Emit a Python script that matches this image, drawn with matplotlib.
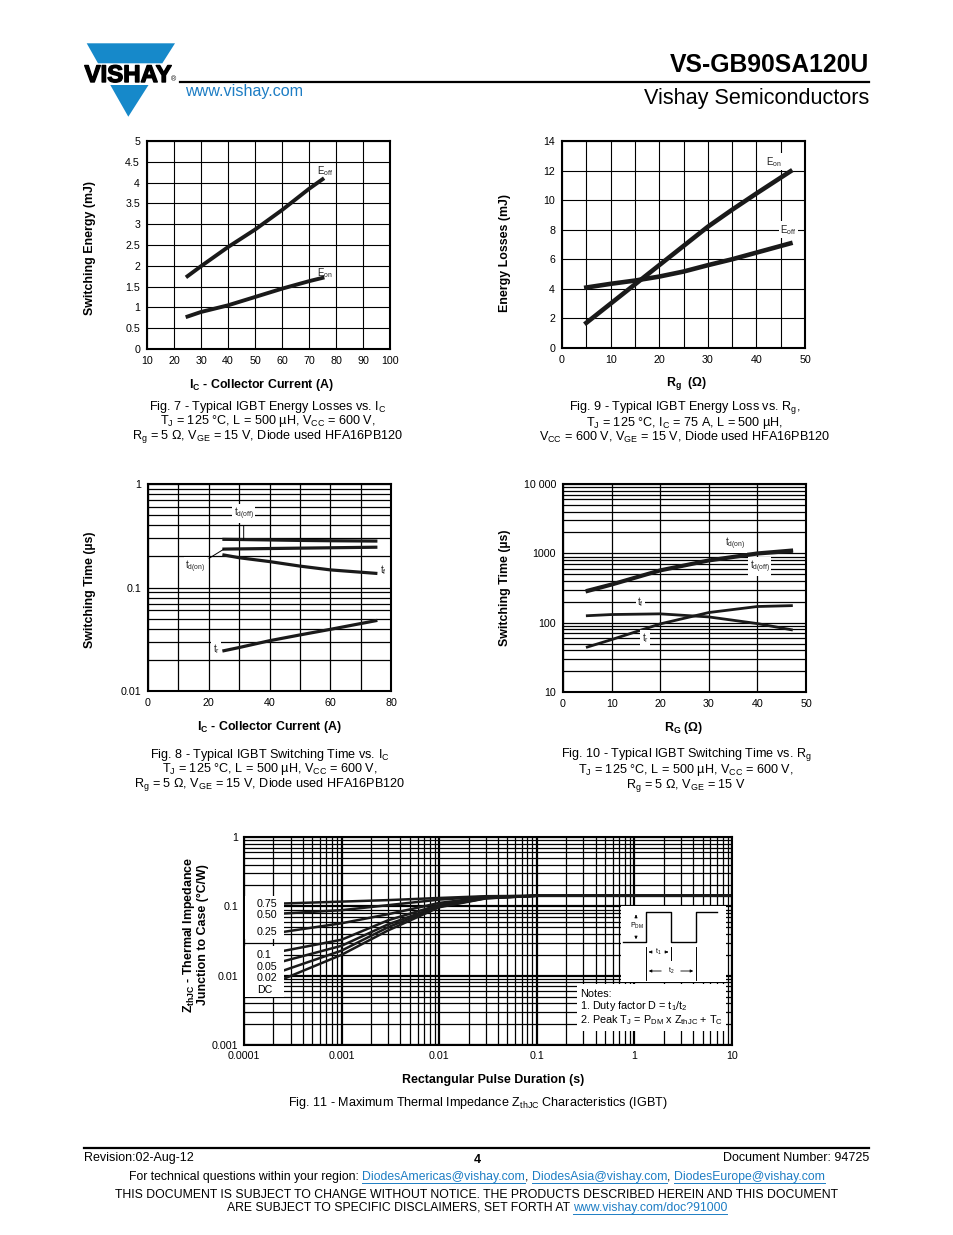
import numpy as np
import matplotlib.pyplot as plt
import matplotlib.patheffects as pe
from matplotlib.patches import Polygon, Rectangle, FancyArrowPatch
from matplotlib.lines import Line2D
from matplotlib.ticker import LogLocator, NullFormatter

plt.rcParams['font.family'] = ['Liberation Sans', 'DejaVu Sans']

# ---- data ----
# Fig. 7 energy vs collector current
ic7 = [25, 30, 40, 50, 60, 70, 75]
eoff7 = [1.75, 1.99, 2.45, 2.87, 3.34, 3.85, 4.08]
eon7 = [0.78, 0.89, 1.05, 1.25, 1.45, 1.63, 1.71]

# Fig. 9 energy vs gate resistance
rg9 = [5, 10, 15, 20, 25, 30, 35, 40, 47]
eon9 = [1.7, 3.0, 4.3, 5.6, 6.9, 8.2, 9.35, 10.45, 11.95]
eoff9 = [4.09, 4.34, 4.56, 4.83, 5.17, 5.6, 6.0, 6.45, 7.08]

# Fig. 8 switching time vs collector current (us)
ic8 = [25, 30, 40, 50, 60, 75]
td_off8 = [0.292, 0.291, 0.288, 0.285, 0.283, 0.281]
td_on8 = [0.235, 0.236, 0.238, 0.240, 0.242, 0.245]
tf8 = [0.206, 0.194, 0.178, 0.161, 0.148, 0.137]
tr8 = [0.0245, 0.0263, 0.0306, 0.0348, 0.0394, 0.0478]

# Fig. 10 switching time vs gate resistance
rg10 = [5, 10, 20, 30, 40, 47]
td_on10 = [292, 360, 575, 800, 1010, 1110]
td_off10 = [282, 350, 560, 780, 980, 1070]
tf10 = [126, 131, 134, 121, 97, 79]
tr10 = [44.5, 57, 96, 140, 171, 176]

# Fig. 11 thermal impedance
t11 = [0.00026, 0.001, 0.003, 0.01, 0.03, 0.1, 10]
duty_labels = ['0.75', '0.50', '0.25', '0.1', '0.05', '0.02', 'DC']
zth = [
    [0.110, 0.117, 0.123, 0.132, 0.140, 0.142, 0.142],
    [0.079, 0.088, 0.104, 0.125, 0.138, 0.142, 0.142],
    [0.043, 0.057, 0.077, 0.112, 0.135, 0.142, 0.142],
    [0.0229, 0.033, 0.063, 0.105, 0.133, 0.142, 0.142],
    [0.0163, 0.027, 0.055, 0.101, 0.132, 0.142, 0.142],
    [0.0120, 0.023, 0.050, 0.099, 0.131, 0.142, 0.142],
    [0.0091, 0.020, 0.045, 0.097, 0.130, 0.142, 0.142],
]

W, H = 954, 1235
fig = plt.figure(figsize=(9.54, 12.35), dpi=100)
BLUE = '#1689ca'
LINK = '#1d7dc4'
CURVE = '#1a1a1a'
TICK = 7.7
AXL = 8.9
CAP = 9.1


def fx(x):
    return x / W


def fy(y):
    return 1 - y / H


def px_axes(x0, y0, x1, y1):
    return fig.add_axes([x0 / W, 1 - y1 / H, (x1 - x0) / W, (y1 - y0) / H])


def ftext(x, y, s, **kw):
    return fig.text(fx(x), fy(y), s, **kw)


def fline(xs, ys, **kw):
    fig.add_artist(Line2D([fx(x) for x in xs], [fy(y) for y in ys],
                          transform=fig.transFigure, **kw))


def frect(x0, y0, x1, y1, **kw):
    fig.add_artist(Rectangle((fx(x0), fy(y1)), (x1 - x0) / W, (y1 - y0) / H,
                             transform=fig.transFigure, **kw))


def sub(s):
    return r'$_\mathregular{%s}$' % s


def style(ax, pad=5):
    for s in ax.spines.values():
        s.set_linewidth(1.5)
        s.set_color('black')
    ax.tick_params(which='both', length=0, labelsize=TICK, pad=pad)
    ax.set_axisbelow(True)


def caption(xc, y0, lines):
    # one multi-line block, middle line centred at y0 + 14
    ftext(xc, y0 + 14, '\n'.join(lines), ha='center', va='center',
          multialignment='center', fontsize=CAP, linespacing=0.9)


LBL = dict(fontsize=7, color='#222222')
BOX = dict(fc='white', ec='none', pad=1.0)

# ---------------- header ----------------
fig.add_artist(Polygon([(fx(86.7), fy(43.3)), (fx(175), fy(43.3)),
                        (fx(162.3), fy(63.3)), (fx(98.0), fy(63.3))],
                       closed=True, transform=fig.transFigure, fc=BLUE, ec='none'))
fig.add_artist(Polygon([(fx(110.3), fy(85)), (fx(148.5), fy(85)),
                        (fx(128.3), fy(116.7))],
                       closed=True, transform=fig.transFigure, fc=BLUE, ec='none'))
ftext(84.5, 82, 'VISHAY', fontsize=17.3, weight='bold', va='baseline',
      path_effects=[pe.withStroke(linewidth=1.0, foreground='black')])
ftext(170.5, 81, '®', fontsize=5, va='baseline')
ftext(869, 72, 'VS-GB90SA120U', ha='right', va='baseline', fontsize=17.8, weight='bold')
fline([180, 869], [82, 82], color='black', lw=1.6)
ftext(185, 96, 'www.vishay.com', color=LINK, fontsize=11.6, va='baseline')
ftext(869, 104, 'Vishay Semiconductors', ha='right', va='baseline', fontsize=15.6)

# ---------------- Fig. 7 ----------------
ax7 = px_axes(147, 141, 390, 349)
style(ax7)
ax7.plot(ic7, eoff7, color=CURVE, lw=2.8)
ax7.plot(ic7, eon7, color=CURVE, lw=2.8)
ax7.set_xlim(10, 100)
ax7.set_ylim(0, 5)
ax7.set_xticks(range(10, 101, 10))
yt7 = np.arange(0, 5.01, 0.5)
ax7.set_yticks(yt7)
ax7.set_yticklabels([f'{v:g}' for v in yt7])
ax7.grid(color='black', lw=0.8)
ax7.text(76, 4.28, 'E' + sub('off'), ha='center', va='center', **LBL)
ax7.text(76, 1.83, 'E' + sub('on'), ha='center', va='center', **LBL)
ftext(90, 248, 'Switching Energy (mJ)', rotation=90, ha='center', va='center',
      fontsize=AXL, weight='bold')
ftext(261, 385, 'I' + sub('C') + ' - Collector Current (A)', ha='center', va='center',
      fontsize=AXL, weight='bold')
caption(268, 408, ['Fig. 7 - Typical IGBT Energy Losses vs. I' + sub('C'),
                   'T' + sub('J') + ' = 125 °C, L = 500 µH, V' + sub('CC') + ' = 600 V,',
                   'R' + sub('g') + ' = 5 Ω, V' + sub('GE') + ' = 15 V, Diode used HFA16PB120'])

# ---------------- Fig. 9 ----------------
ax9 = px_axes(562, 141, 805, 348)
style(ax9)
ax9.plot(rg9, eon9, color=CURVE, lw=3.3)
ax9.plot(rg9, eoff9, color=CURVE, lw=3.3)
ax9.set_xlim(0, 50)
ax9.set_ylim(0, 14)
ax9.set_xticks(range(0, 51, 10))
ax9.set_xticks(range(5, 50, 10), minor=True)
ax9.set_yticks(range(0, 15, 2))
ax9.grid(which='both', color='black', lw=0.8)
ax9.text(43.5, 12.6, 'E' + sub('on'), ha='center', va='center', bbox=BOX, **LBL)
ax9.text(46.6, 8.0, 'E' + sub('off'), ha='center', va='center', bbox=BOX, **LBL)
ftext(505, 253, 'Energy Losses (mJ)', rotation=90, ha='center', va='center',
      fontsize=AXL, weight='bold')
ftext(687, 384, 'R' + sub('g') + '  (Ω)', ha='center', va='center',
      fontsize=AXL, weight='bold')
caption(685, 408, ['Fig. 9 - Typical IGBT Energy Loss vs. R' + sub('g') + ',',
                   'T' + sub('J') + ' = 125 °C, I' + sub('C') + ' = 75 A, L = 500 µH,',
                   'V' + sub('CC') + ' = 600 V, V' + sub('GE') + ' = 15 V, Diode used HFA16PB120'])

# ---------------- Fig. 8 ----------------
ax8 = px_axes(148, 484, 391, 691)
style(ax8)
ax8.set_yscale('log')
ax8.plot(ic8, td_off8, color=CURVE, lw=2.3)
ax8.plot(ic8, td_on8, color=CURVE, lw=2.3)
ax8.plot(ic8, tf8, color=CURVE, lw=2.3)
ax8.plot(ic8, tr8, color=CURVE, lw=2.3)
ax8.set_xlim(0, 80)
ax8.set_ylim(0.01, 1)
ax8.set_xticks(range(0, 81, 20))
ax8.set_xticks(range(10, 80, 20), minor=True)
ax8.set_yticks([0.01, 0.1, 1])
ax8.set_yticklabels(['0.01', '0.1', '1'])
ax8.yaxis.set_minor_locator(LogLocator(base=10, subs=np.arange(2, 10)))
ax8.yaxis.set_minor_formatter(NullFormatter())
ax8.grid(which='both', color='black', lw=0.9)
ax8.annotate('t' + sub('d(off)'), xy=(ic8[1] + 1.5, td_off8[1]), xytext=(31.5, 0.52),
             ha='center', va='center', bbox=BOX,
             arrowprops=dict(arrowstyle='-', lw=0.7, shrinkA=2, shrinkB=0), **LBL)
ax8.annotate('t' + sub('d(on)'), xy=(ic8[0], td_on8[0]), xytext=(15.5, 0.158),
             ha='center', va='center', bbox=BOX,
             arrowprops=dict(arrowstyle='-', lw=0.7, shrinkA=2, shrinkB=0), **LBL)
ax8.text(77.5, 0.147, 't' + sub('f'), ha='center', va='center', bbox=BOX, **LBL)
ax8.text(22.5, 0.0255, 't' + sub('r'), ha='center', va='center', bbox=BOX, **LBL)
ftext(90, 590, 'Switching Time (µs)', rotation=90, ha='center', va='center',
      fontsize=AXL, weight='bold')
ftext(269, 727, 'I' + sub('C') + ' - Collector Current (A)', ha='center', va='center',
      fontsize=AXL, weight='bold')
caption(270, 756, ['Fig. 8 - Typical IGBT Switching Time vs. I' + sub('C'),
                   'T' + sub('J') + ' = 125 °C, L = 500 µH, V' + sub('CC') + ' = 600 V,',
                   'R' + sub('g') + ' = 5 Ω, V' + sub('GE') + ' = 15 V, Diode used HFA16PB120'])

# ---------------- Fig. 10 ----------------
ax10 = px_axes(563, 484, 806, 692)
style(ax10)
ax10.set_yscale('log')
ax10.plot(rg10, td_on10, color=CURVE, lw=2.4)
ax10.plot(rg10, td_off10, color=CURVE, lw=2.4)
ax10.plot(rg10, tf10, color=CURVE, lw=2.0)
ax10.plot(rg10, tr10, color=CURVE, lw=2.0)
ax10.set_xlim(0, 50)
ax10.set_ylim(10, 10000)
ax10.set_xticks(range(0, 51, 10))
ax10.set_yticks([10, 100, 1000, 10000])
ax10.set_yticklabels(['10', '100', '1000', '10 000'])
ax10.yaxis.set_minor_locator(LogLocator(base=10, subs=np.arange(2, 10)))
ax10.yaxis.set_minor_formatter(NullFormatter())
ax10.grid(which='both', color='black', lw=0.9)
ax10.text(35.4, 1370, 't' + sub('d(on)'), ha='center', va='center', bbox=BOX, **LBL)
ax10.text(40.5, 640, 't' + sub('d(off)'), ha='center', va='center', bbox=BOX, **LBL)
ax10.text(15.9, 200, 't' + sub('f'), ha='center', va='center', bbox=BOX, **LBL)
ax10.text(16.9, 60, 't' + sub('r'), ha='center', va='center', bbox=BOX, **LBL)
ftext(505, 588, 'Switching Time (µs)', rotation=90, ha='center', va='center',
      fontsize=AXL, weight='bold')
ftext(684, 728, 'R' + sub('G') + ' (Ω)', ha='center', va='center',
      fontsize=AXL, weight='bold')
caption(686, 756, ['Fig. 10 - Typical IGBT Switching Time vs. R' + sub('g'),
                   'T' + sub('J') + ' = 125 °C, L = 500 µH, V' + sub('CC') + ' = 600 V,',
                   'R' + sub('g') + ' = 5 Ω, V' + sub('GE') + ' = 15 V'])

# ---------------- Fig. 11 ----------------
ax11 = px_axes(244, 837, 732, 1045)
style(ax11, pad=4)
ax11.set_xscale('log')
ax11.set_yscale('log')
for z in zth:
    ax11.plot(t11, z, color=CURVE, lw=1.8)
ax11.set_xlim(1e-4, 10)
ax11.set_ylim(1e-3, 1)
ax11.set_xticks([1e-4, 1e-3, 1e-2, 0.1, 1, 10])
ax11.set_xticklabels(['0.0001', '0.001', '0.01', '0.1', '1', '10'])
ax11.set_yticks([1e-3, 1e-2, 0.1, 1])
ax11.set_yticklabels(['0.001', '0.01', '0.1', '1'])
for a in (ax11.xaxis, ax11.yaxis):
    a.set_minor_locator(LogLocator(base=10, subs=np.arange(2, 10)))
    a.set_minor_formatter(NullFormatter())
ax11.grid(which='major', color='black', lw=1.6)
ax11.grid(which='minor', color='black', lw=0.9)

# duty-cycle label boxes
frect(245, 896, 284, 939, fc='white', ec='none', zorder=5)
frect(245, 946, 284, 997, fc='white', ec='none', zorder=5)
for lab, yy in zip(duty_labels, [904, 915, 932, 955, 967, 978, 990]):
    ftext(257, yy, lab, ha='left', va='center', fontsize=7.7, zorder=6)

# pulse diagram inset
frect(621, 906, 726, 982, fc='white', ec='none', zorder=5)
fline([623, 646, 646, 671, 671, 696, 696, 717], [942, 942, 912, 912, 942, 942, 912, 912],
      color='black', lw=1.0, zorder=6)
fline([646, 646], [947, 980], color='black', lw=0.7, zorder=6)
fline([671, 671], [947, 960], color='black', lw=0.7, zorder=6)
fline([696, 696], [947, 980], color='black', lw=0.7, zorder=6)
for (xa, ya), (xb, yb) in [((636, 919), (636, 912)), ((636, 934), (636, 942)),
                           ((653, 952), (646, 952)), ((664, 952), (671, 952)),
                           ((664, 971), (646, 971)), ((678, 971), (696, 971))]:
    fig.add_artist(FancyArrowPatch((fx(xa), fy(ya)), (fx(xb), fy(yb)),
                                   transform=fig.transFigure, arrowstyle='-|>',
                                   mutation_scale=4, lw=0.6, color='black', zorder=6))
ftext(637, 926, 'P' + sub('DM'), ha='center', va='center', fontsize=5, zorder=6)
ftext(658.5, 952, 't' + sub('1'), ha='center', va='center', fontsize=5, zorder=6)
ftext(671, 971, 't' + sub('2'), ha='center', va='center', fontsize=5, zorder=6)

# notes box
frect(577, 984, 726, 1031, fc='white', ec='none', zorder=5)
ftext(580, 1008, 'Notes:\n1. Duty factor D = t' + sub('1') + '/t' + sub('2') +
      '\n2. Peak T' + sub('J') + ' = P' + sub('DM') + ' x Z' + sub('thJC') + ' + T' + sub('C'),
      ha='left', va='center', fontsize=7.8, linespacing=0.98, zorder=6)

ftext(195, 935, 'Z' + sub('thJC') + ' - Thermal Impedance\nJunction to Case (°C/W)',
      rotation=90, ha='center', va='center', multialignment='center',
      fontsize=AXL, weight='bold', linespacing=1.0)
ftext(493, 1080, 'Rectangular Pulse Duration (s)', ha='center', va='center',
      fontsize=AXL, weight='bold')
ftext(478, 1103, 'Fig. 11 - Maximum Thermal Impedance Z' + sub('thJC') + ' Characteristics (IGBT)',
      ha='center', va='center', fontsize=CAP)

# ---------------- footer ----------------
fline([84, 869], [1148, 1148], color='black', lw=1.6)
ftext(84, 1158, 'Revision:02-Aug-12', ha='left', va='center', fontsize=9)
ftext(477, 1160, '4', ha='center', va='center', fontsize=9, weight='bold')
ftext(869, 1158, 'Document Number: 94725', ha='right', va='center', fontsize=9)

renderer = fig.canvas.get_renderer()


def text_width(s, size):
    t = fig.text(0, 0, s, fontsize=size)
    w = t.get_window_extent(renderer).width
    t.remove()
    return w


def rich_line(yc, parts, size=8.8):
    space = text_width('a a', size) - text_width('aa', size)
    widths = [space if s == ' ' else text_width(s, size) for s, _ in parts]
    x = 477 - sum(widths) / 2
    for (s, link), w in zip(parts, widths):
        if s != ' ':
            ftext(x, yc, s, ha='left', va='center', fontsize=size,
                  color=LINK if link else 'black')
            if link:
                fline([x, x + w], [yc + 6, yc + 6], color=LINK, lw=0.7)
        x += w


rich_line(1177, [('For technical questions within your region:', False), (' ', False),
                 ('DiodesAmericas@vishay.com', True), (',', False), (' ', False),
                 ('DiodesAsia@vishay.com', True), (',', False), (' ', False),
                 ('DiodesEurope@vishay.com', True)])
rich_line(1195, [('THIS DOCUMENT IS SUBJECT TO CHANGE WITHOUT NOTICE. THE PRODUCTS '
                  'DESCRIBED HEREIN AND THIS DOCUMENT', False)])
rich_line(1208, [('ARE SUBJECT TO SPECIFIC DISCLAIMERS, SET FORTH AT', False), (' ', False),
                 ('www.vishay.com/doc?91000', True)])

fig.savefig('out.png', dpi=100, facecolor='white')
